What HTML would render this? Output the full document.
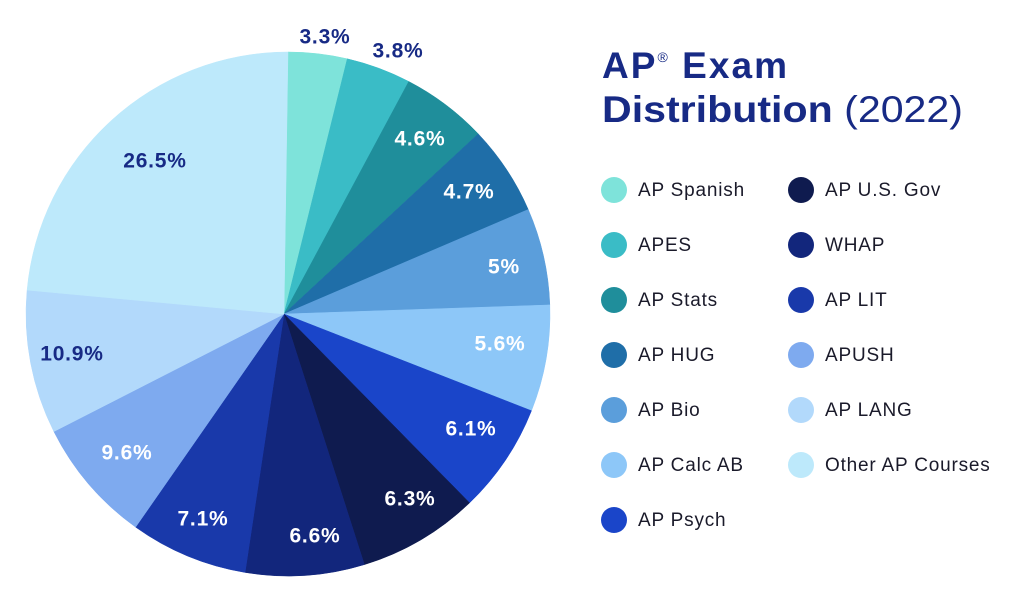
<!DOCTYPE html>
<html><head><meta charset="utf-8"><style>
body{margin:0;width:1024px;height:600px;background:#fff;overflow:hidden;font-family:"Liberation Sans",sans-serif}
svg{position:absolute;left:0;top:0}
</style></head><body>
<svg id="s" width="1024" height="600" xmlns="http://www.w3.org/2000/svg">
<g id="pie"></g>
<g font-family="Liberation Sans, sans-serif" font-weight="bold" font-size="21" letter-spacing="0.8" text-anchor="middle" dominant-baseline="middle">
<text x="325" y="38" fill="#172a85">3.3%</text>
<text x="398" y="52" fill="#172a85">3.8%</text>
<text x="420" y="140" fill="#fff">4.6%</text>
<text x="469" y="193" fill="#fff">4.7%</text>
<text x="504" y="268" fill="#fff">5%</text>
<text x="500" y="345" fill="#fff">5.6%</text>
<text x="471" y="430" fill="#fff">6.1%</text>
<text x="410" y="500" fill="#fff">6.3%</text>
<text x="315" y="537" fill="#fff">6.6%</text>
<text x="203" y="520" fill="#fff">7.1%</text>
<text x="127" y="454" fill="#fff">9.6%</text>
<text x="72" y="355" fill="#172a85">10.9%</text>
<text x="155" y="162" fill="#172a85">26.5%</text>
</g>
<g font-family="Liberation Sans, sans-serif" fill="#172a85">
<text x="602" y="78" font-size="37" font-weight="bold" textLength="185" lengthAdjust="spacing">AP<tspan font-size="14" dy="-16" font-weight="normal">®</tspan><tspan dy="16"> Exam</tspan></text>
<text x="602" y="122" font-size="37" textLength="361" lengthAdjust="spacingAndGlyphs"><tspan font-weight="bold">Distribution</tspan> (2022)</text>
</g>
<g id="leg" font-family="Liberation Sans, sans-serif" font-size="19" letter-spacing="0.8" fill="#1a1a2a" dominant-baseline="middle"></g>
</svg>
<script>
var d=[["#7ee3da","AP Spanish"],["#3abcc6","APES"],["#1f8e9b","AP Stats"],["#1f6ea8","AP HUG"],["#5b9edb","AP Bio"],["#8dc7f8","AP Calc AB"],["#1a45c9","AP Psych"],["#0f1b4f","AP U.S. Gov"],["#12267c","WHAP"],["#1939aa","AP LIT"],["#7eaaef","APUSH"],["#b2d9fb","AP LANG"],["#bde9fb","Other AP Courses"]];
var pts=[[288,52],[347,60],[408,83],[477,135],[527,210],[548,305],[517,405],[462,495],[363,560],[245,573],[135,528],[53,432],[26,290],[288,52]];
var cx=288,cy=314,r=262,ox=284,oy=314,h="";
function proj(p){var a=Math.atan2(p[1]-cy,p[0]-cx);return [cx+r*Math.cos(a),cy+r*Math.sin(a),a];}
for(var i=0;i<13;i++){var p=proj(pts[i]),q=proj(pts[i+1]);var da=q[2]-p[2];while(da<0)da+=2*Math.PI;
h+='<path d="M'+ox+' '+oy+'L'+p[0]+' '+p[1]+'A'+r+' '+r+' 0 '+(da>Math.PI?1:0)+' 1 '+q[0]+' '+q[1]+'Z" fill="'+d[i][0]+'" stroke="'+d[i][0]+'" stroke-width="0.5"/>';}
document.getElementById("pie").innerHTML=h;
var l="";d.forEach(function(e,i){var c=i<7?0:1,row=i<7?i:i-7;var x=c?801:614,y=190+row*55;
l+='<circle cx="'+x+'" cy="'+y+'" r="13" fill="'+e[0]+'"/><text x="'+(x+24)+'" y="'+(y+1)+'">'+e[1]+'</text>';});
document.getElementById("leg").innerHTML=l;
</script>
</body></html>
